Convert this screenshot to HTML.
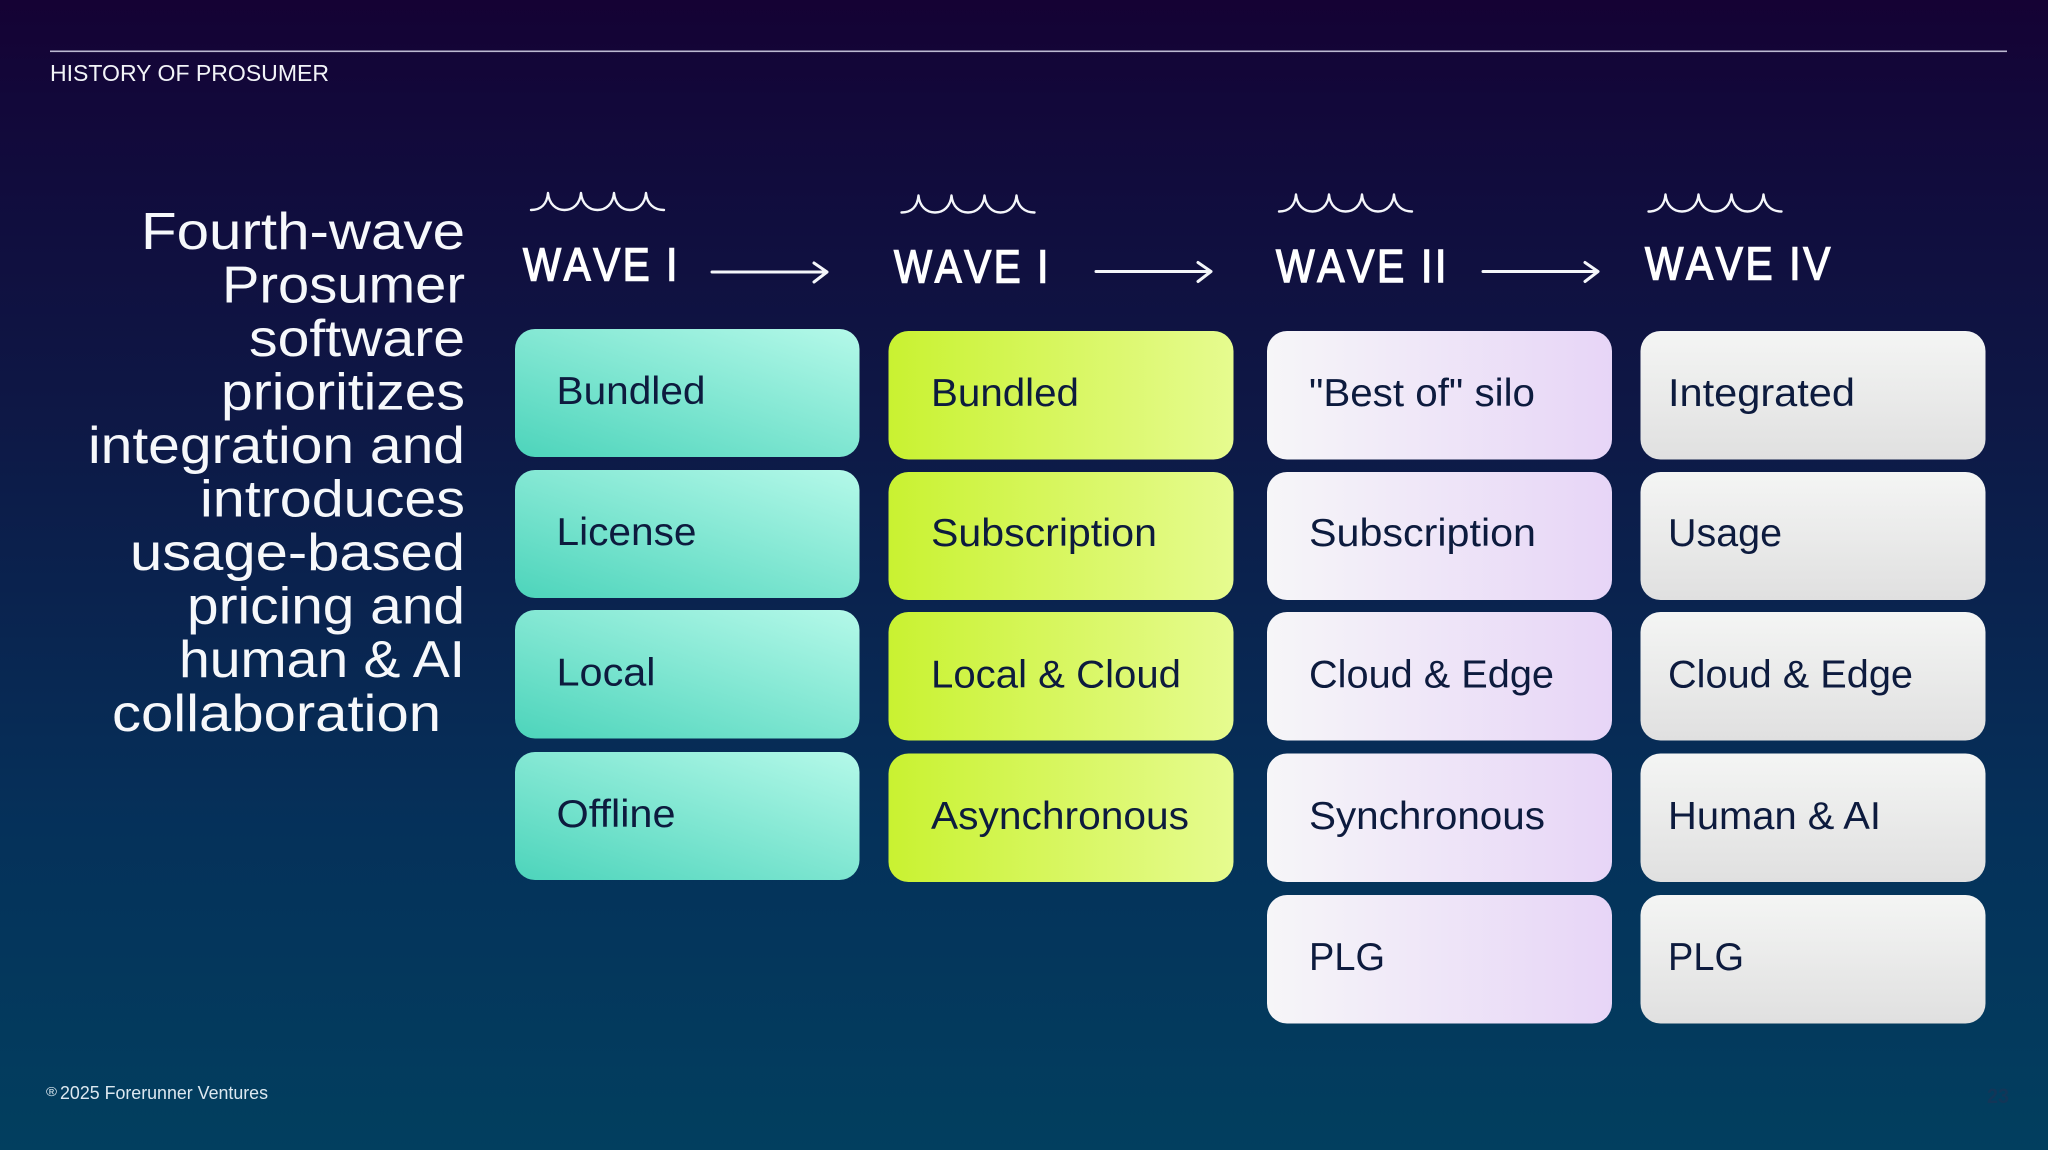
<!DOCTYPE html>
<html lang="en">
<head>
<meta charset="utf-8">
<title>History of Prosumer</title>
<style>
html,body{margin:0;padding:0;width:2048px;height:1150px;overflow:hidden;background:#0e1745}
svg{display:block}
text{font-family:"Liberation Sans",sans-serif}
.h{font-size:52px;fill:#f6f8fb}
.c{font-size:39px;fill:#0d1b3e}
.w{font-size:46px;fill:#fff;stroke:#fff;stroke-width:1.4px;letter-spacing:3px;font-kerning:none}
.ln{fill:none;stroke:#f4f6fa;stroke-width:3;stroke-linecap:round;stroke-linejoin:round}
.wv{fill:none;stroke:#f4f6fa;stroke-width:2.4;stroke-linecap:round;stroke-linejoin:round}
</style>
</head>
<body>
<svg width="2048" height="1150" viewBox="0 0 2048 1150" xmlns="http://www.w3.org/2000/svg">
<defs>
<linearGradient id="bg" x1="0" y1="0" x2="0" y2="1">
<stop offset="0" stop-color="#150234"/>
<stop offset=".09" stop-color="#12083a"/>
<stop offset=".35" stop-color="#0e1745"/>
<stop offset=".72" stop-color="#05315a"/>
<stop offset="1" stop-color="#023f5f"/>
</linearGradient>
<linearGradient id="teal" x1="0.05" y1="1" x2="0.95" y2="0">
<stop offset="0" stop-color="#4fd5bc"/>
<stop offset="1" stop-color="#b2f8e8"/>
</linearGradient>
<linearGradient id="lime" x1="0" y1="0.5" x2="1" y2="0.5">
<stop offset="0" stop-color="#c9f231"/>
<stop offset="1" stop-color="#e6fb8f"/>
</linearGradient>
<linearGradient id="lilac" x1="0" y1="0.5" x2="1" y2="0.5">
<stop offset="0" stop-color="#f6f6f8"/>
<stop offset="1" stop-color="#e7d5f7"/>
</linearGradient>
<linearGradient id="gray" x1="0" y1="0" x2="0" y2="1">
<stop offset="0" stop-color="#f4f5f4"/>
<stop offset="1" stop-color="#e0e0e0"/>
</linearGradient>
<path id="wave" d="M531 210C541 210 547 204 548 193C549 204 556 210 564.5 210C573 210 580 204 581 193C582 204 589 210 597.5 210C606 210 613 204 614 193C615 204 622 210 630 210C638 210 645 204 646 193C647 204 654 210 664 210"/>
</defs>
<rect width="2048" height="1150" fill="url(#bg)"/>

<rect x="50" y="50.5" width="1957" height="1.6" fill="#bdb9d2"/>
<text x="50" y="81" font-size="23" fill="#f2f4f8" textLength="279" lengthAdjust="spacingAndGlyphs">HISTORY OF PROSUMER</text>

<text class="h" x="141" y="249" textLength="324" lengthAdjust="spacingAndGlyphs">Fourth-wave</text>
<text class="h" x="222" y="302.5" textLength="243" lengthAdjust="spacingAndGlyphs">Prosumer</text>
<text class="h" x="249" y="356" textLength="216" lengthAdjust="spacingAndGlyphs">software</text>
<text class="h" x="221" y="409.5" textLength="244" lengthAdjust="spacingAndGlyphs">prioritizes</text>
<text class="h" x="88" y="463" textLength="377" lengthAdjust="spacingAndGlyphs">integration and</text>
<text class="h" x="200" y="516.5" textLength="265" lengthAdjust="spacingAndGlyphs">introduces</text>
<text class="h" x="130" y="570" textLength="335" lengthAdjust="spacingAndGlyphs">usage-based</text>
<text class="h" x="187" y="623.5" textLength="278" lengthAdjust="spacingAndGlyphs">pricing and</text>
<text class="h" x="179" y="677" textLength="286" lengthAdjust="spacingAndGlyphs">human &amp; AI</text>
<text class="h" x="112" y="731" textLength="329" lengthAdjust="spacingAndGlyphs">collaboration</text>

<use href="#wave" class="wv"/>
<use href="#wave" class="wv" transform="translate(370.5 2.5)"/>
<use href="#wave" class="wv" transform="translate(748 1.5)"/>
<use href="#wave" class="wv" transform="translate(1117.5 1.5)"/>

<text class="w" x="523" y="280.5" textLength="157" lengthAdjust="spacingAndGlyphs">WAVE I</text>
<text class="w" x="894" y="282.5" textLength="157" lengthAdjust="spacingAndGlyphs">WAVE I</text>
<text class="w" x="1276" y="282" textLength="173" lengthAdjust="spacingAndGlyphs">WAVE II</text>
<text class="w" x="1645" y="279.5" textLength="188" lengthAdjust="spacingAndGlyphs">WAVE IV</text>

<path class="ln" d="M712 272H827M814 263L827 272L814 282"/>
<path class="ln" d="M1096 271.5H1211M1198 262.5L1211 271.5L1198 281.5"/>
<path class="ln" d="M1483 271.5H1598M1585 262.5L1598 271.5L1585 281.5"/>

<g fill="url(#teal)">
<rect x="515" y="329" width="344.5" height="128" rx="20"/>
<rect x="515" y="470" width="344.5" height="128" rx="20"/>
<rect x="515" y="610" width="344.5" height="128.5" rx="20"/>
<rect x="515" y="752" width="344.5" height="128" rx="20"/>
</g>
<g fill="url(#lime)">
<rect x="888.5" y="331" width="345" height="128.5" rx="20"/>
<rect x="888.5" y="472" width="345" height="128" rx="20"/>
<rect x="888.5" y="612" width="345" height="128.5" rx="20"/>
<rect x="888.5" y="753.5" width="345" height="128.5" rx="20"/>
</g>
<g fill="url(#lilac)">
<rect x="1267" y="331" width="345" height="128.5" rx="20"/>
<rect x="1267" y="472" width="345" height="128" rx="20"/>
<rect x="1267" y="612" width="345" height="128.5" rx="20"/>
<rect x="1267" y="753.5" width="345" height="128.5" rx="20"/>
<rect x="1267" y="895" width="345" height="128.5" rx="20"/>
</g>
<g fill="url(#gray)">
<rect x="1640.5" y="331" width="345" height="128.5" rx="20"/>
<rect x="1640.5" y="472" width="345" height="128" rx="20"/>
<rect x="1640.5" y="612" width="345" height="128.5" rx="20"/>
<rect x="1640.5" y="753.5" width="345" height="128.5" rx="20"/>
<rect x="1640.5" y="895" width="345" height="128.5" rx="20"/>
</g>

<text class="c" x="556.5" y="404" textLength="149" lengthAdjust="spacingAndGlyphs">Bundled</text>
<text class="c" x="556.5" y="545" textLength="140" lengthAdjust="spacingAndGlyphs">License</text>
<text class="c" x="556.5" y="685.5" textLength="99" lengthAdjust="spacingAndGlyphs">Local</text>
<text class="c" x="556.5" y="827" textLength="119" lengthAdjust="spacingAndGlyphs">Offline</text>

<text class="c" x="931" y="406" textLength="148" lengthAdjust="spacingAndGlyphs">Bundled</text>
<text class="c" x="931" y="546" textLength="226" lengthAdjust="spacingAndGlyphs">Subscription</text>
<text class="c" x="931" y="687.5" textLength="250" lengthAdjust="spacingAndGlyphs">Local &amp; Cloud</text>
<text class="c" x="931" y="829" textLength="258" lengthAdjust="spacingAndGlyphs">Asynchronous</text>

<text class="c" x="1309" y="406" textLength="226" lengthAdjust="spacingAndGlyphs">"Best of" silo</text>
<text class="c" x="1309" y="546" textLength="227" lengthAdjust="spacingAndGlyphs">Subscription</text>
<text class="c" x="1309" y="687.5" textLength="245" lengthAdjust="spacingAndGlyphs">Cloud &amp; Edge</text>
<text class="c" x="1309" y="829" textLength="236" lengthAdjust="spacingAndGlyphs">Synchronous</text>
<text class="c" x="1309" y="970" textLength="76" lengthAdjust="spacingAndGlyphs">PLG</text>

<text class="c" x="1668" y="406" textLength="187" lengthAdjust="spacingAndGlyphs">Integrated</text>
<text class="c" x="1668" y="546" textLength="114" lengthAdjust="spacingAndGlyphs">Usage</text>
<text class="c" x="1668" y="687.5" textLength="245" lengthAdjust="spacingAndGlyphs">Cloud &amp; Edge</text>
<text class="c" x="1668" y="829" textLength="213" lengthAdjust="spacingAndGlyphs">Human &amp; AI</text>
<text class="c" x="1668" y="970" textLength="76" lengthAdjust="spacingAndGlyphs">PLG</text>

<text x="46" y="1096" font-size="13" fill="#dce8f0" textLength="11" lengthAdjust="spacingAndGlyphs">®</text>
<text x="60" y="1099" font-size="18" fill="#dce8f0" textLength="208" lengthAdjust="spacingAndGlyphs">2025 Forerunner Ventures</text>
<text x="1987" y="1103" font-size="21" font-weight="700" fill="#123658" textLength="22" lengthAdjust="spacingAndGlyphs">23</text>
</svg>
</body>
</html>
